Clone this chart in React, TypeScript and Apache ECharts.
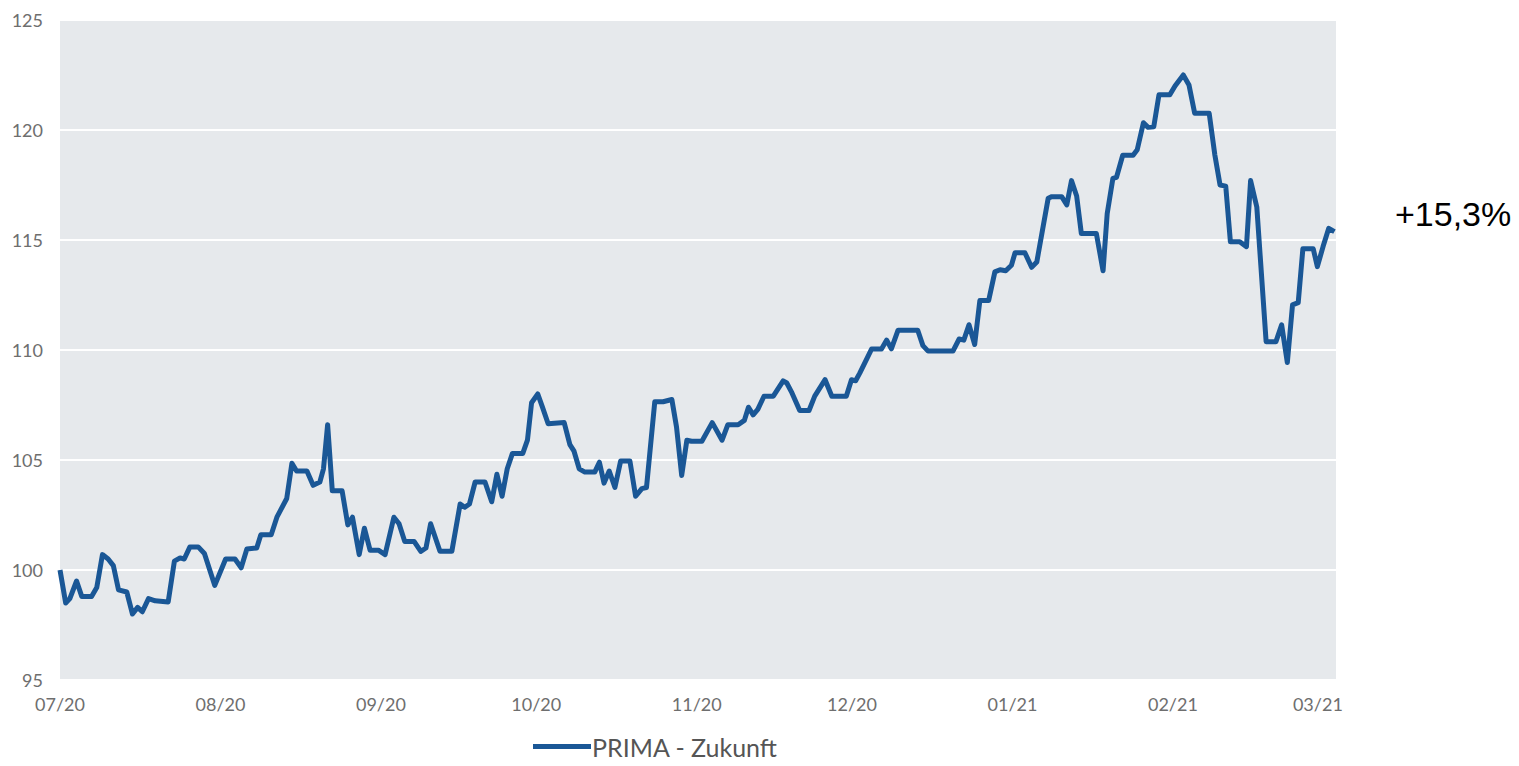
import React, { useEffect, useRef } from "react";
import * as echarts from "echarts";

const seriesName = "PRIMA - Zukunft";
const tickLabels = ["07/20", "08/20", "09/20", "10/20", "11/20", "12/20", "01/21", "02/21", "03/21"];
const tickDays = [0, 31, 62, 92, 123, 153, 184, 215, 243];
const yTicks = [95, 100, 105, 110, 115, 120, 125];
const annotation = "+15,3%";

// days since 2020-07-01
const dayOffsets = [
  0, 1.1, 1.9, 3.2, 4.2, 6.1, 7.1, 8.2, 9.3, 10.3, 11.3, 12.9, 14.0, 15.0, 15.9, 17.1, 18.4, 20.9, 22.1, 23.2,
  24.0, 25.1, 26.7, 27.9, 29.9, 32.0, 33.8, 35.0, 36.1, 38.0, 38.8, 40.8, 41.9, 43.8, 44.8, 45.7, 47.7, 48.9, 50.2, 50.9,
  51.7, 52.6, 54.5, 55.6, 56.5, 57.8, 58.8, 59.9, 61.5, 62.8, 64.5, 65.5, 66.6, 68.4, 69.7, 70.7, 71.6, 73.4, 75.7, 77.3,
  78.2, 79.1, 80.2, 82.1, 83.4, 84.4, 85.4, 86.4, 87.4, 89.4, 90.3, 91.1, 92.3, 93.2, 94.3, 97.4, 98.5, 99.3, 100.3, 101.4,
  103.3, 104.2, 105.1, 106.1, 107.2, 108.3, 110.1, 111.2, 112.4, 113.3, 114.9, 116.5, 118.2, 119.1, 120.1, 121.1, 122.0, 124.0, 126.0, 127.9,
  129.0, 131.0, 132.2, 133.0, 133.9, 134.8, 136.0, 137.8, 139.7, 140.4, 141.3, 142.9, 144.7, 145.8, 147.8, 149.1, 151.9, 152.9, 153.7, 154.5,
  156.8, 158.7, 159.7, 160.6, 161.9, 165.7, 166.7, 167.7, 172.5, 173.7, 174.6, 175.6, 176.7, 177.7, 179.4, 180.6, 181.6, 182.7, 183.8, 184.5,
  186.4, 187.7, 188.7, 190.9, 191.6, 193.5, 194.5, 195.4, 196.4, 197.3, 200.2, 201.5, 202.3, 203.4, 204.1, 205.3, 207.3, 208.1, 209.3, 210.2,
  211.3, 212.3, 214.4, 215.4, 217.0, 218.1, 219.2, 222.0, 223.1, 224.1, 225.2, 226.1, 227.9, 229.2, 230.0, 231.2, 233.0, 234.9, 236.0, 237.1,
  238.1, 239.2, 240.1, 242.1, 242.9, 244.0, 245.1, 246.2,
];

const values = [
  100.0, 98.5, 98.7, 99.5, 98.8, 98.8, 99.2, 100.7, 100.5, 100.2, 99.1, 99.0, 98.0, 98.3, 98.1, 98.7, 98.6, 98.55, 100.4, 100.55,
  100.5, 101.05, 101.05, 100.75, 99.3, 100.5, 100.5, 100.1, 100.95, 101.0, 101.6, 101.6, 102.4, 103.25, 104.85, 104.5, 104.5, 103.85, 104.0, 104.6,
  106.6, 103.6, 103.6, 102.05, 102.4, 100.7, 101.9, 100.9, 100.9, 100.7, 102.4, 102.1, 101.3, 101.3, 100.85, 101.0, 102.1, 100.85, 100.85, 103.0,
  102.85, 103.0, 104.0, 104.0, 103.1, 104.35, 103.35, 104.6, 105.3, 105.3, 105.9, 107.6, 108.0, 107.4, 106.65, 106.7, 105.7, 105.4, 104.6, 104.45,
  104.45, 104.9, 103.95, 104.5, 103.75, 104.95, 104.95, 103.35, 103.7, 103.75, 107.65, 107.65, 107.75, 106.5, 104.3, 105.9, 105.85, 105.85, 106.7, 105.9,
  106.6, 106.6, 106.8, 107.4, 107.05, 107.3, 107.9, 107.9, 108.6, 108.5, 108.1, 107.25, 107.25, 107.9, 108.65, 107.9, 107.9, 108.65, 108.6, 108.95,
  110.05, 110.05, 110.45, 110.05, 110.9, 110.9, 110.2, 109.95, 109.95, 110.5, 110.45, 111.15, 110.25, 112.25, 112.25, 113.55, 113.65, 113.6, 113.85, 114.42,
  114.42, 113.76, 114.0, 116.9, 116.97, 116.97, 116.6, 117.7, 117.0, 115.3, 115.3, 113.6, 116.2, 117.8, 117.85, 118.85, 118.85, 119.1, 120.33, 120.12,
  120.15, 121.6, 121.6, 122.0, 122.5, 122.05, 120.76, 120.76, 118.86, 117.5, 117.45, 114.92, 114.92, 114.7, 117.7, 116.5, 110.38, 110.38, 111.14, 109.43,
  112.05, 112.15, 114.6, 114.6, 113.79, 114.7, 115.53, 115.38,
];

export default function App() {
  const ref = useRef<HTMLDivElement>(null);
  useEffect(() => {
    if (!ref.current) return;
    const chart = echarts.init(ref.current, undefined, { renderer: "svg" });
    const data = dayOffsets.map((d, i) => [d, values[i]]);
    chart.setOption({
      animation: false,
      backgroundColor: "#ffffff",
      grid: {
        left: 60,
        right: 183,
        top: 20,
        bottom: 86,
        show: true,
        backgroundColor: "#e6e9ec",
        borderWidth: 0,
      },
      xAxis: {
        type: "value",
        min: 0,
        max: 246.5,
        axisLine: { show: false },
        axisTick: { show: false },
        splitLine: { show: false },
        axisLabel: {
          customValues: tickDays,
          formatter: (v: number) => {
            const i = tickDays.indexOf(Math.round(v));
            return i >= 0 ? tickLabels[i] : "";
          },
          color: "#6e6e6e",
          fontFamily: "Lato",
          fontSize: 18,
          margin: 15,
        },
      },
      yAxis: {
        type: "value",
        min: yTicks[0],
        max: yTicks[yTicks.length - 1],
        interval: 5,
        axisLine: { show: false },
        axisTick: { show: false },
        splitLine: { show: true, lineStyle: { color: "#ffffff", width: 2 } },
        axisLabel: {
          color: "#6e6e6e",
          fontFamily: "Lato",
          fontSize: 18,
          margin: 17,
        },
      },
      legend: {
        show: true,
        left: 533,
        top: 734,
        padding: 0,
        icon: "rect",
        itemWidth: 58,
        itemHeight: 5,
        itemGap: 10,
        textStyle: {
          color: "#555555",
          fontFamily: "Lato",
          fontSize: 25,
          lineHeight: 25,
          padding: [0, 0, 0, -4],
        },
        data: [seriesName],
      },
      graphic: [
        {
          type: "text",
          left: 1395,
          top: 197,
          style: {
            text: annotation,
            fill: "#000000",
            fontFamily: "Liberation Sans",
            fontSize: 34,
          },
        },
      ],
      series: [
        {
          name: seriesName,
          type: "line",
          data,
          showSymbol: false,
          symbol: "none",
          lineStyle: { color: "#1a5796", width: 5, join: "round" },
          itemStyle: { color: "#1a5796" },
        },
      ],
    });
    return () => chart.dispose();
  }, []);
  return <div ref={ref} style={{ position: "absolute", left: 0, top: 0, width: 1519, height: 766 }} />;
}
